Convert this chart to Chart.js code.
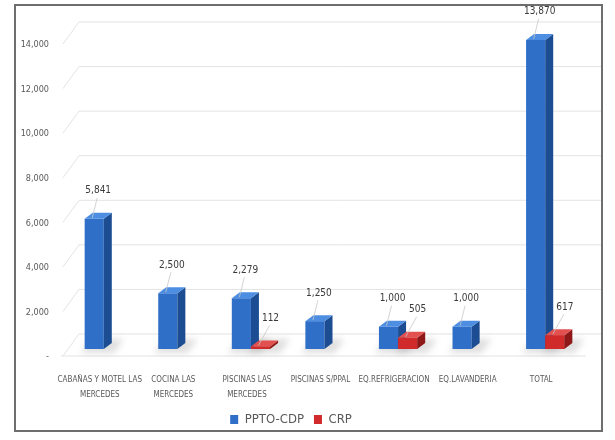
<!DOCTYPE html>
<html>
<head>
<meta charset="utf-8">
<script src="https://cdn.jsdelivr.net/npm/chart.js@4/dist/chart.umd.min.js"></script>
<style>
  html, body { margin: 0; padding: 0; background: #ffffff; }
  #wrap { position: relative; width: 615px; height: 440px; }
  #frame { position: absolute; left: 14px; top: 4px; width: 589px; height: 428px; border: 2px solid #6e6e6e; box-sizing: border-box; pointer-events: none; }
  canvas { position: absolute; left: 0; top: 0; }
</style>
</head>
<body>
<div id="wrap">
  <canvas id="c" width="615" height="440"></canvas>
  <div id="frame"></div>
</div>
<script>
const categories = [
  ["CABAÑAS Y MOTEL LAS", "MERCEDES"],
  ["COCINA LAS", "MERCEDES"],
  ["PISCINAS LAS", "MERCEDES"],
  "PISCINAS S/PPAL",
  "EQ.REFRIGERACION",
  "EQ.LAVANDERIA",
  "TOTAL"
];
const pptoCdp = [5841, 2500, 2279, 1250, 1000, 1000, 13870];
const crp = [null, null, 112, null, 505, null, 617];
const yTicks = [0, 2000, 4000, 6000, 8000, 10000, 12000, 14000];

const FONT = "'Liberation Sans Narrow', 'DejaVu Sans Condensed', 'Liberation Sans', sans-serif";
const faces = [
  { front: '#2f6fc7', top: '#4d8ee2', side: '#1c4d92' },
  { front: '#d02a2a', top: '#e25050', side: '#8e1717' }
];
const DX = 8, DY = 6;

const wallPlugin = {
  id: 'wall',
  beforeDatasetsDraw(chart) {
    const ctx = chart.ctx, ys = chart.scales.y, a = chart.chartArea;
    ctx.save();
    ctx.strokeStyle = '#e3e3e3';
    ctx.lineWidth = 1;
    yTicks.forEach(v => {
      const py = ys.getPixelForValue(v) - 15;
      ctx.beginPath();
      ctx.moveTo(a.left - 4, py + 22);
      ctx.lineTo(a.left + 12, py);
      ctx.lineTo(a.right + 20, py);
      ctx.stroke();
    });
    const b = ys.getPixelForValue(0);
    ctx.beginPath();
    ctx.moveTo(a.left - 6, b + 7);
    ctx.lineTo(a.right + 4, b + 7);
    ctx.stroke();
    ctx.fillStyle = 'rgba(110,110,110,0.22)';
    ctx.filter = 'blur(3px)';
    chart.data.datasets.forEach((ds, i) => {
      const meta = chart.getDatasetMeta(i);
      meta.data.forEach((el, j) => {
        if (ds.data[j] == null) return;
        const l = el.x - el.width / 2, r = el.x + el.width / 2;
        ctx.beginPath();
        ctx.moveTo(l - 4, b + 4);
        ctx.lineTo(r + 10, b + 4);
        ctx.lineTo(r + 20, b - 10);
        ctx.lineTo(l + 6, b - 10);
        ctx.closePath();
        ctx.fill();
      });
    });
    ctx.filter = 'none';
    ctx.restore();
  }
};

function drawFaces(ctx, el, f) {
  const l = el.x - el.width / 2, r = el.x + el.width / 2, t = el.y, b = el.base;
  ctx.fillStyle = f.side;
  ctx.beginPath();
  ctx.moveTo(r, t); ctx.lineTo(r + DX, t - DY); ctx.lineTo(r + DX, b - DY); ctx.lineTo(r, b);
  ctx.closePath(); ctx.fill();
  ctx.fillStyle = f.top;
  ctx.beginPath();
  ctx.moveTo(l, t); ctx.lineTo(r, t); ctx.lineTo(r + DX, t - DY); ctx.lineTo(l + DX, t - DY);
  ctx.closePath(); ctx.fill();
}

const boxPlugin = {
  id: 'box3d',
  afterDatasetsDraw(chart) {
    const ctx = chart.ctx;
    ctx.save();
    chart.data.datasets.forEach((ds, i) => {
      const meta = chart.getDatasetMeta(i);
      meta.data.forEach((el, j) => {
        if (ds.data[j] == null) return;
        if (i > 0) { ctx.save(); el.draw(ctx, chart.chartArea); ctx.restore(); }
        drawFaces(ctx, el, faces[i]);
      });
    });
    ctx.restore();
  }
};

const labelPlugin = {
  id: 'vlabels',
  afterDatasetsDraw(chart) {
    const ctx = chart.ctx;
    ctx.save();
    ctx.font = "10px " + FONT;
    ctx.textAlign = 'center';
    ctx.textBaseline = 'middle';
    chart.data.datasets.forEach((ds, i) => {
      const meta = chart.getDatasetMeta(i);
      meta.data.forEach((el, j) => {
        const v = ds.data[j];
        if (v == null) return;
        const ox = i === 0 ? 4 : 10;
        const tx = el.x + ox, ty = el.y - 28;
        ctx.strokeStyle = '#c8c8c8';
        ctx.lineWidth = 0.8;
        ctx.beginPath();
        ctx.moveTo(tx - 1, ty + 7);
        ctx.lineTo(el.x - 2, el.y - 1);
        ctx.stroke();
        ctx.fillStyle = '#3a3a3a';
        ctx.fillText(v.toLocaleString('en-US'), tx, ty);
      });
    });
    ctx.restore();
  }
};

new Chart(document.getElementById('c'), {
  type: 'bar',
  data: {
    labels: categories,
    datasets: [
      { label: 'PPTO-CDP', data: pptoCdp, backgroundColor: faces[0].front, borderWidth: 0 },
      { label: 'CRP', data: crp, backgroundColor: faces[1].front, borderWidth: 0 }
    ]
  },
  options: {
    responsive: false,
    animation: false,
    layout: { padding: { top: 37, right: 33, bottom: 4, left: 0 } },
    datasets: { bar: { categoryPercentage: 0.52, barPercentage: 1.0, skipNull: false } },
    scales: {
      x: {
        grid: { display: false },
        border: { display: false },
        ticks: { color: '#595959', font: { size: 8, family: FONT, lineHeight: 1.8 }, padding: 16, labelOffset: -4, maxRotation: 0, autoSkip: false },
        afterFit(s) { s.height = 54; }
      },
      y: {
        min: 0, max: 14000,
        afterBuildTicks(s) { s.ticks = yTicks.map(v => ({ value: v })); },
        grid: { display: false },
        border: { display: false },
        ticks: {
          color: '#595959', font: { size: 9, family: FONT }, padding: 10, labelOffset: 8,
          callback: v => v === 0 ? '-' : v.toLocaleString('en-US')
        },
        afterFit(s) { s.width = 67; }
      }
    },
    plugins: {
      legend: {
        position: 'bottom',
        labels: { color: '#595959', font: { size: 13, family: FONT }, boxWidth: 8, boxHeight: 9, padding: 10 }
      },
      tooltip: { enabled: false }
    }
  },
  plugins: [wallPlugin, boxPlugin, labelPlugin]
});
</script>
</body>
</html>
